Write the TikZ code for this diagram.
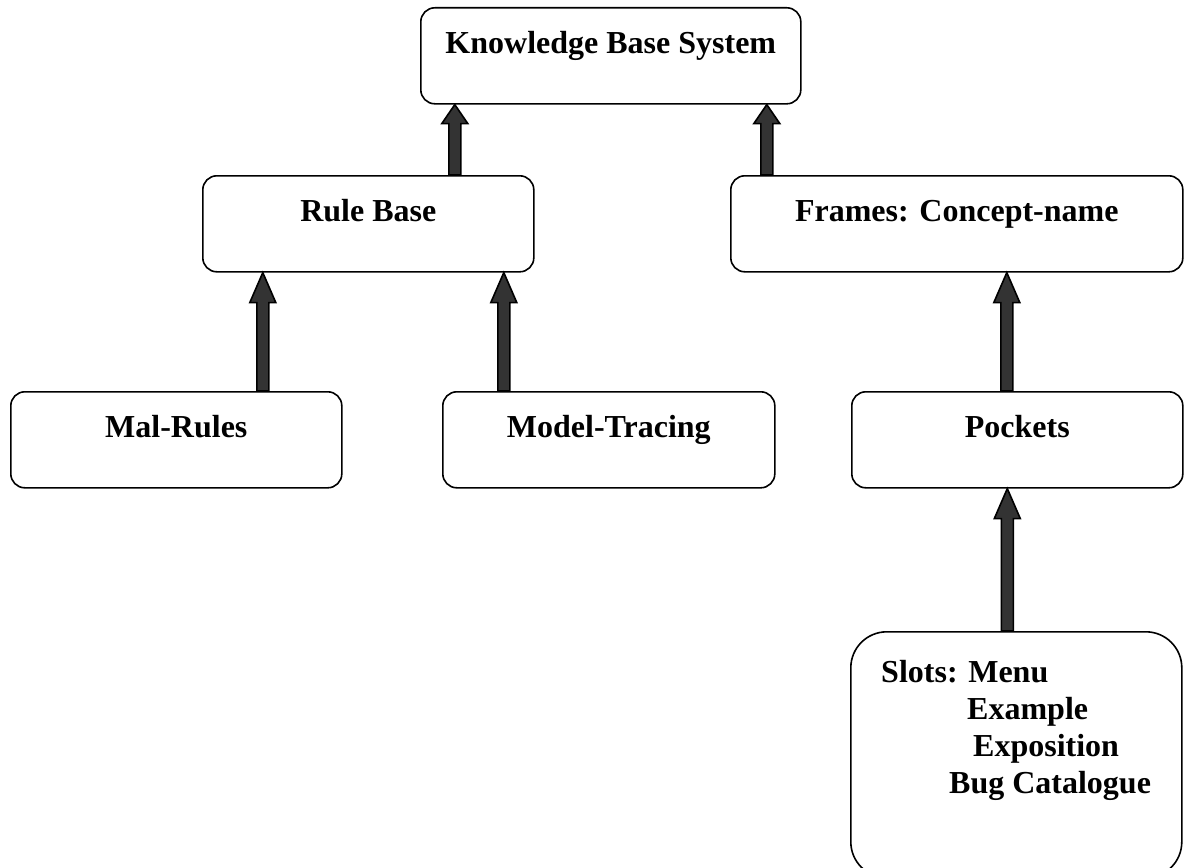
\documentclass[tikz,border=0pt]{standalone}
\usepackage{fontspec}
\setmainfont{Liberation Serif}
\usetikzlibrary{calc}
\definecolor{arrowgray}{HTML}{333333}
\newcommand\blockarrow[3]{%
  \draw[arrowbody] ($(#1)+(-6,0)$) -- ($(#2)+(-6,#3)$) -- ($(#2)+(-13,#3)$) -- (#2)
    -- ($(#2)+(13,#3)$) -- ($(#2)+(6,#3)$) -- ($(#1)+(6,0)$) -- cycle;}
\begin{document}
\begin{tikzpicture}[x=1pt,y=-1pt,
  box/.style={draw,line width=1.6pt,rounded corners=14pt,inner sep=0pt,anchor=north west,
    text height=46pt,text depth=50pt,font=\fontsize{32}{37}\selectfont\bfseries},
  arrowbody/.style={draw=black,fill=arrowgray,line width=1.6pt,line join=miter}]
\useasboundingbox (0,0) rectangle (1185,867);
\node[box,minimum width=380pt] (kbs) at (420,7) {Knowledge Base System};
\node[box,minimum width=331pt] (rb) at (202,175) {Rule Base};
\node[box,minimum width=452pt] (fr) at (730,175) {Frames: Concept-name};
\node[box,minimum width=331pt] (mr) at (10,391) {Mal-Rules};
\node[box,minimum width=332pt] (mt) at (442,391) {Model-Tracing};
\node[box,minimum width=331pt] (pk) at (851,391) {Pockets};
\node[box,rounded corners=36pt,text height=0pt,text depth=0pt,minimum width=331pt,minimum height=246pt] (sl) at (850,631) {};
\node[anchor=north west,inner sep=0pt,align=left,font=\fontsize{32}{37}\selectfont\bfseries] (sltext) at (881,660)
  {Slots: Menu\\\hspace*{86pt}Example\\\hspace*{92pt}Exposition\\\hspace*{68pt}Bug Catalogue};
\coordinate (t1) at ([xshift=-156pt]kbs.south); \coordinate (b1) at (t1 |- rb.north);
\coordinate (t2) at ([xshift=156pt]kbs.south);  \coordinate (b2) at (t2 |- fr.north);
\coordinate (t3) at ([xshift=-105.5pt]rb.south); \coordinate (b3) at (t3 |- mr.north);
\coordinate (t4) at ([xshift=135.5pt]rb.south);  \coordinate (b4) at (t4 |- mt.north);
\coordinate (t5) at ([xshift=50pt]fr.south);    \coordinate (b5) at (t5 |- pk.north);
\coordinate (t6) at ([xshift=-10pt]pk.south);   \coordinate (b6) at (t6 |- sl.north);
\blockarrow{b1}{t1}{19}
\blockarrow{b2}{t2}{19}
\blockarrow{b3}{t3}{30}
\blockarrow{b4}{t4}{30}
\blockarrow{b5}{t5}{30}
\blockarrow{b6}{t6}{30}
\end{tikzpicture}
\end{document}
